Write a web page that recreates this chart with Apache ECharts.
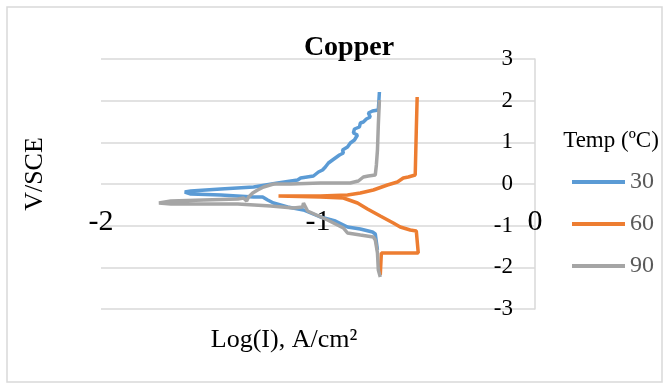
<!DOCTYPE html>
<html>
<head>
<meta charset="utf-8">
<script src="https://cdn.jsdelivr.net/npm/echarts@6/dist/echarts.min.js"></script>
<style>
  html, body { margin: 0; padding: 0; background: #fff; }
  #chart { width: 665px; height: 385px; }
</style>
</head>
<body>
<div id="chart"></div>
<script>
// Copper polarisation curves
var seriesNames = ['30', '60', '90']
var xTicks = [-2, -1, 0]
var yTicks = [-3, -2, -1, 0, 1, 2, 3]

var logI30 = [-0.717, -0.722, -0.749, -0.768, -0.759, -0.777, -0.791, -0.805, -0.809, -0.832, -0.837, -0.818, -0.832, -0.851, -0.864, -0.887, -0.883, -0.901, -0.910, -0.933, -0.952, -0.966, -0.979, -0.998, -1.021, -1.080, -1.094, -1.186, -1.297, -1.448, -1.586, -1.614, -1.586, -1.448, -1.297, -1.255, -1.232, -1.205, -1.140, -1.067, -0.989, -0.920, -0.864, -0.805, -0.749, -0.736, -0.726]
var volt30 = [2.208, 1.776, 1.752, 1.704, 1.608, 1.560, 1.488, 1.464, 1.368, 1.320, 1.224, 1.176, 1.056, 0.984, 0.888, 0.816, 0.744, 0.696, 0.648, 0.576, 0.504, 0.408, 0.336, 0.288, 0.192, 0.144, 0.096, 0.024, -0.072, -0.120, -0.168, -0.192, -0.240, -0.264, -0.312, -0.312, -0.384, -0.456, -0.552, -0.624, -0.792, -0.888, -1.032, -1.080, -1.152, -1.200, -1.584]

var logI60 = [-0.543, -0.547, -0.552, -0.584, -0.607, -0.634, -0.680, -0.745, -0.805, -0.864, -0.989, -1.182, -0.989, -0.883, -0.818, -0.772, -0.713, -0.653, -0.621, -0.575, -0.547, -0.538, -0.708, -0.713]
var volt60 = [2.088, 1.296, 0.216, 0.168, 0.144, 0.048, -0.024, -0.144, -0.216, -0.264, -0.288, -0.288, -0.312, -0.336, -0.456, -0.600, -0.768, -0.936, -1.032, -1.104, -1.128, -1.656, -1.656, -2.184]

var logI90 = [-0.717, -0.722, -0.726, -0.731, -0.736, -0.768, -0.791, -0.814, -0.851, -0.989, -1.126, -1.205, -1.251, -1.278, -1.301, -1.320, -1.329, -1.343, -1.370, -1.526, -1.678, -1.733, -1.678, -1.370, -1.218, -1.113, -1.071, -1.067, -1.048, -0.956, -0.883, -0.864, -0.805, -0.745, -0.736, -0.726, -0.722, -0.713]
var volt90 = [2.016, 1.416, 0.816, 0.456, 0.216, 0.192, 0.168, 0.072, 0.024, 0.024, 0.000, 0.000, -0.072, -0.144, -0.216, -0.312, -0.408, -0.336, -0.360, -0.384, -0.408, -0.456, -0.480, -0.480, -0.528, -0.576, -0.552, -0.456, -0.648, -0.864, -1.056, -1.176, -1.224, -1.272, -1.344, -1.656, -2.064, -2.232]

var colors = ['#5B9BD5', '#ED7D31', '#A5A5A5']
var serif = 'Liberation Serif'

function pairs (xs, ys) {
  var out = []
  for (var i = 0; i < xs.length; i++) {
    out.push([xs[i], ys[i]])
  }
  return out
}

var allData = [pairs(logI30, volt30), pairs(logI60, volt60), pairs(logI90, volt90)]

var chart = echarts.init(document.getElementById('chart'))
chart.setOption({
  animation: false,
  color: colors,
  title: {
    text: 'Copper',
    left: 344,
    top: 29,
    textAlign: 'center',
    textStyle: { fontFamily: serif, fontSize: 28, fontWeight: 'bold', color: '#000' }
  },
  grid: { left: 101, right: 130, top: 59, bottom: 76 },
  legend: {
    orient: 'vertical',
    left: 567,
    top: 165,
    icon: 'rect',
    itemWidth: 53,
    itemHeight: 4,
    itemGap: 18,
    data: seriesNames,
    textStyle: { fontFamily: serif, fontSize: 24, lineHeight: 24, color: '#595959' }
  },
  xAxis: {
    type: 'value',
    min: xTicks[0],
    max: xTicks[xTicks.length - 1],
    interval: 1,
    axisLine: { show: false },
    axisTick: { show: false },
    splitLine: { show: false },
    axisLabel: {
      margin: -102,
      showMinLabel: true,
      showMaxLabel: true,
      fontFamily: serif,
      fontSize: 30,
      color: '#000'
    }
  },
  yAxis: {
    type: 'value',
    position: 'right',
    min: yTicks[0],
    max: yTicks[yTicks.length - 1],
    interval: 1,
    axisLine: { show: true, lineStyle: { color: '#d9d9d9', width: 1.5 } },
    axisTick: { show: false },
    splitLine: { lineStyle: { color: '#d9d9d9', width: 1.5 } },
    axisLabel: {
      inside: true,
      margin: 22,
      fontFamily: serif,
      fontSize: 23,
      color: '#000'
    }
  },
  series: seriesNames.map(function (name, i) {
    return {
      name: name,
      type: 'line',
      data: allData[i],
      showSymbol: false,
      symbol: 'none',
      lineStyle: { width: 3.5, color: colors[i] }
    }
  }),
  graphic: [
    {
      type: 'rect',
      shape: { x: 7, y: 7, width: 655, height: 375 },
      style: { fill: 'none', stroke: '#d9d9d9', lineWidth: 1.5 },
      silent: true
    },
    {
      type: 'text',
      x: 35,
      y: 174,
      rotation: Math.PI / 2,
      style: {
        text: 'V/SCE',
        font: '26px "Liberation Serif"',
        fill: '#000',
        align: 'center',
        verticalAlign: 'middle'
      }
    },
    {
      type: 'text',
      x: 284,
      y: 340,
      style: {
        text: 'Log(I), A/cm²',
        font: '26px "Liberation Serif"',
        fill: '#000',
        align: 'center',
        verticalAlign: 'middle'
      }
    },
    {
      type: 'text',
      x: 611,
      y: 141,
      style: {
        text: 'Temp (ºC)',
        font: '23px "Liberation Serif"',
        fill: '#000',
        align: 'center',
        verticalAlign: 'middle'
      }
    }
  ]
})
</script>
</body>
</html>
